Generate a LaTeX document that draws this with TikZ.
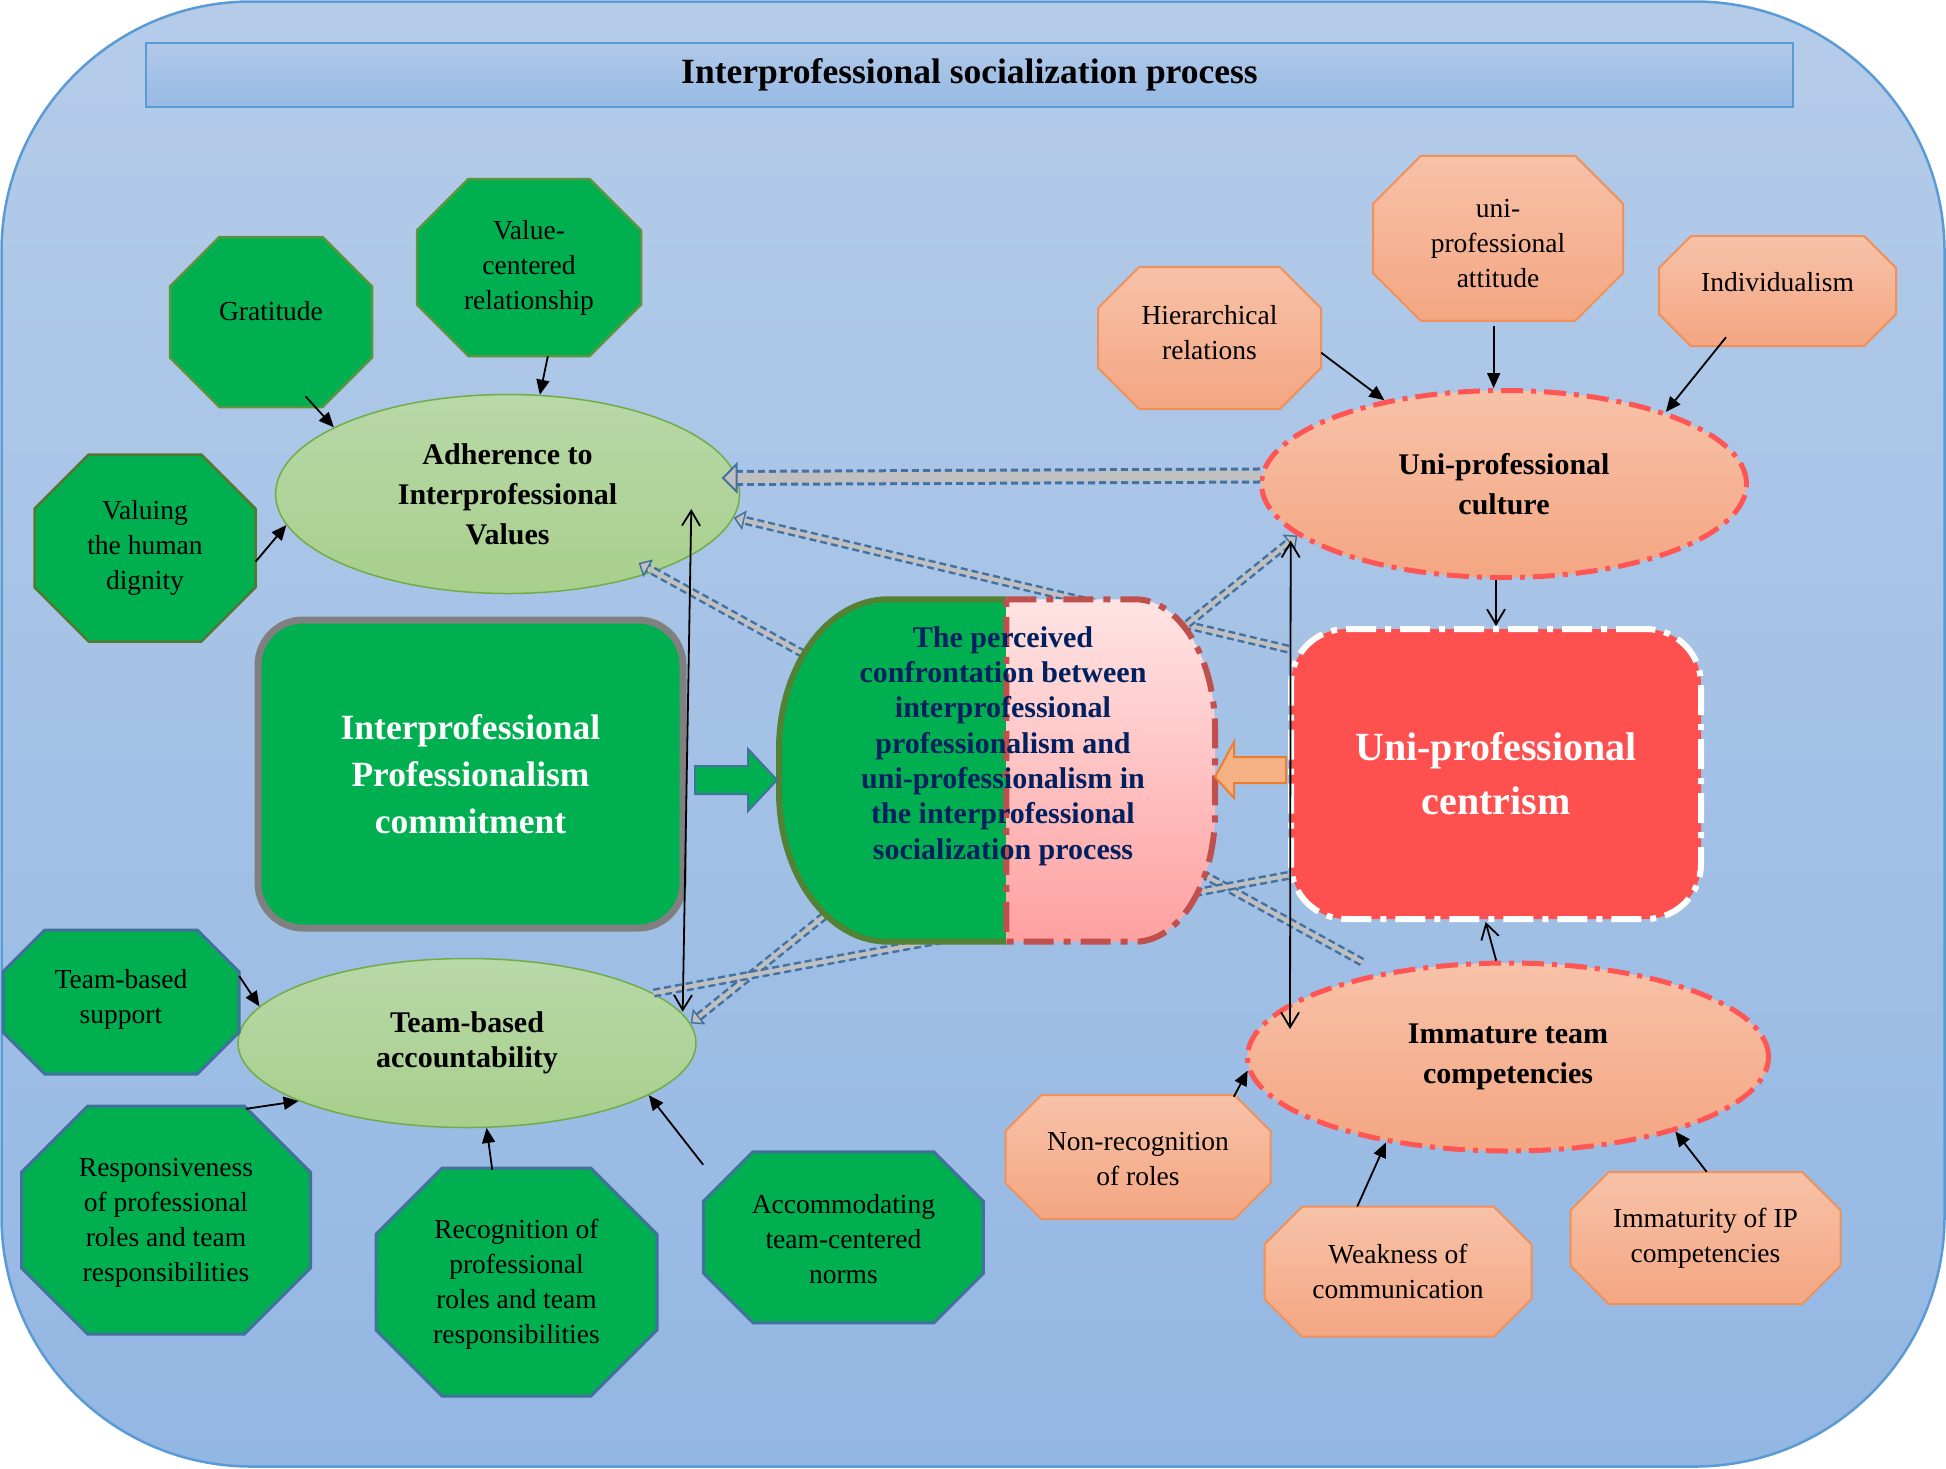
\documentclass[tikz,border=0pt]{standalone}
\usepackage{fontspec}
\setmainfont{Liberation Serif}
\usetikzlibrary{arrows.meta,calc,shapes.geometric}
\definecolor{bgtop}{RGB}{181,204,233}
\definecolor{bgbot}{RGB}{147,183,227}
\definecolor{bord}{RGB}{91,155,213}
\definecolor{ttop}{RGB}{178,201,232}
\definecolor{tbot}{RGB}{150,185,228}
\definecolor{gfill}{RGB}{0,176,80}
\definecolor{gbord}{RGB}{90,150,62}
\definecolor{gbordd}{RGB}{84,120,50}
\definecolor{bbord}{RGB}{65,113,156}
\definecolor{ofilltop}{RGB}{247,194,168}
\definecolor{ofillbot}{RGB}{244,166,130}
\definecolor{obord}{RGB}{238,145,90}
\definecolor{eltop}{RGB}{184,216,168}
\definecolor{elbot}{RGB}{168,207,140}
\definecolor{elbord}{RGB}{112,173,71}
\definecolor{redd}{RGB}{255,85,85}
\definecolor{upcfill}{RGB}{255,80,80}
\definecolor{navyc}{RGB}{0,32,96}
\definecolor{olivec}{RGB}{84,130,53}
\definecolor{pinktop}{RGB}{255,228,228}
\definecolor{pinkbot}{RGB}{255,160,160}
\definecolor{darkredc}{RGB}{192,80,77}
\definecolor{ddblue}{RGB}{68,114,160}
\definecolor{ddgray}{RGB}{192,192,192}
\definecolor{oarrfill}{RGB}{244,177,131}
\definecolor{oarrbord}{RGB}{237,125,49}
% #1 style, #2 name, #3 cx, #4 cy, #5 w, #6 h, #7 text, #8 text shift
\newcommand\octo[8]{%
  \pgfmathsetmacro\octC{0.29*min(#5,#6)}%
  \pgfmathsetmacro\octW{#5/2}%
  \pgfmathsetmacro\octH{#6/2}%
  \draw[#1] ({#3-\octW+\octC},{#4-\octH}) -- ({#3+\octW-\octC},{#4-\octH}) -- ({#3+\octW},{#4-\octH+\octC}) -- ({#3+\octW},{#4+\octH-\octC}) -- ({#3+\octW-\octC},{#4+\octH}) -- ({#3-\octW+\octC},{#4+\octH}) -- ({#3-\octW},{#4+\octH-\octC}) -- ({#3-\octW},{#4-\octH+\octC}) -- cycle;
  \node[octtext, minimum width=#5pt, minimum height=#6pt] (#2) at (#3,{#4+#8}) {#7};
}
\begin{document}
\begin{tikzpicture}[x=1pt,y=-1pt,
  octtext/.style={inner sep=0pt, align=center, font=\fontsize{27.5}{35}\selectfont},
  goct/.style={fill=gfill, draw=gbord, line width=2.5pt},
  goctd/.style={fill=gfill, draw=gbordd, line width=2.5pt},
  boct/.style={fill=gfill, draw=bbord, line width=3pt},
  ooct/.style={top color=ofilltop, bottom color=ofillbot, draw=obord, line width=2pt},
  gell/.style={ellipse, inner sep=0pt, top color=eltop, bottom color=elbot, draw=elbord, line width=1.5pt, align=center, font=\bfseries\fontsize{30}{40}\selectfont},
  oell/.style={ellipse, inner sep=0pt, top color=ofilltop, bottom color=ofillbot, draw=redd, line width=5pt, dash pattern=on 22pt off 8pt on 5pt off 8pt, align=center, font=\bfseries\fontsize{30}{40}\selectfont},
  ddo/.style={draw=ddblue, line width=#1, dash pattern=on 7pt off 4pt},
  ddi/.style={draw=ddgray, line width=#1},
  blk/.style={draw=black, line width=1.8pt, -{Triangle[length=15pt,width=13pt]}},
  opn/.style={draw=black, line width=1.8pt, {Straight Barb[length=15pt,width=18pt]}-{Straight Barb[length=15pt,width=18pt]}},
  opn1/.style={draw=black, line width=1.8pt, -{Straight Barb[length=15pt,width=18pt]}}
]
\useasboundingbox (0,0) rectangle (1946,1468);
% background
\draw[draw=bord, line width=2.5pt, top color=bgtop, bottom color=bgbot, rounded corners=250pt] (1.5,1.5) rectangle (1944.5,1466.5);
% title
\node[draw=bord, line width=2.5pt, top color=ttop, bottom color=tbot, minimum width=1647pt, minimum height=64pt, inner sep=0pt, font=\bfseries\fontsize{35.5}{40}\selectfont] (title) at (969.5,75) {\raisebox{-2pt}{Interprofessional socialization process}};

% ellipses
\node[gell, minimum width=464pt, minimum height=199pt] (adh) at (507.6,494) {Adherence to\\Interprofessional\\Values};
\node[gell, minimum width=458pt, minimum height=169pt, font=\bfseries\fontsize{30}{35}\selectfont] (acc) at (467,1043) {Team-based\\accountability};
\node[oell, minimum width=485pt, minimum height=187pt] (cul) at (1504,484) {Uni-professional\\culture};
\node[oell, minimum width=521pt, minimum height=188pt] (itc) at (1508,1057) {Immature team\\competencies};

% main boxes
\node[rounded corners=45pt, fill=gfill, draw=gray, line width=7pt, minimum width=425pt, minimum height=308pt, inner sep=0pt, align=center, text=white, font=\bfseries\fontsize{35.5}{47}\selectfont] (ipc) at (470.5,774) {Interprofessional\\Professionalism\\commitment};
\node[rounded corners=55pt, fill=upcfill, draw=white, line width=6pt, dash pattern=on 30pt off 9pt on 6pt off 9pt, minimum width=410pt, minimum height=290pt, inner sep=0pt, align=center, text=white, font=\bfseries\fontsize{40}{54}\selectfont] (upc) at (1496,774) {Uni-professional\\centrism};

\coordinate (gend) at (1362,962);

% double dashed connectors (behind the central shape)
\draw[ddo=16pt, -{Triangle[length=16pt,width=32pt,line width=2pt,fill=ddgray]}] (cul.178) -- ($(adh.center)+(214,-16)$);
\draw[ddi=10pt, shorten >=16pt] (cul.178) -- ($(adh.center)+(214,-16)$);
\draw[ddo=9pt, -{Triangle[length=11pt,width=20pt,line width=1.5pt,fill=ddgray]}] (upc.149) -- (adh.-6);
\draw[ddi=4pt, shorten >=11pt] (upc.149) -- (adh.-6);
\draw[ddo=9pt, -{Triangle[length=11pt,width=20pt,line width=1.5pt,fill=ddgray]}] (gend) -- ($(adh.center)+(131,69)$);
\draw[ddi=4pt, shorten >=11pt] (gend) -- ($(adh.center)+(131,69)$);
\draw[ddo=9pt, {Triangle[length=11pt,width=20pt,line width=1.5pt,fill=ddgray]}-{Triangle[length=11pt,width=20pt,line width=1.5pt,fill=ddgray]}] (acc.5) -- (cul.194);
\draw[ddi=4pt, shorten >=11pt, shorten <=11pt] (acc.5) -- (cul.194);
\draw[ddo=9pt] (upc.206) -- (acc.15);
\draw[ddi=4pt] (upc.206) -- (acc.15);

% central confrontation shape
\draw[fill=gfill, draw=olivec, line width=6pt] (1006.4,599.3) -- (888,599.3) arc[start angle=-90, end angle=-180, x radius=109, y radius=150] -- (779,791.7) arc[start angle=-180, end angle=-270, x radius=109, y radius=150] -- (1006.4,941.7);
\draw[top color=pinktop, bottom color=pinkbot, draw=darkredc, line width=6pt, dash pattern=on 30pt off 10pt on 7pt off 10pt] (1006.4,599.3) -- (1135,599.3) arc[start angle=-90, end angle=0, x radius=80, y radius=130] -- (1215,811.7) arc[start angle=0, end angle=90, x radius=80, y radius=130] -- (1006.4,941.7) -- cycle;
\node[text=navyc, align=center, inner sep=0pt, font=\bfseries\fontsize{30}{35.3}\selectfont] (conf) at (1003,746) {The perceived\\confrontation between\\interprofessional\\professionalism and\\uni-professionalism in\\the interprofessional\\socialization process};

% block arrows
\draw[fill=gfill, draw=bbord, line width=2pt] (695,766) -- (748,766) -- (748,749) -- (777,780) -- (748,811) -- (748,794) -- (695,794) -- cycle;
\draw[fill=oarrfill, draw=oarrbord, line width=2pt] (1286,757) -- (1234,757) -- (1234,742) -- (1215,777) -- (1234,798) -- (1234,783) -- (1286,783) -- cycle;

% green octagons
\octo{goct}{grat}{271}{322}{202}{170}{Gratitude}{-11}
\octo{goct}{val}{529}{267.5}{224}{177}{Value-\\centered\\relationship}{0}
\octo{goctd}{dig}{145}{548}{221}{187}{Valuing\\the human\\dignity}{0}
\octo{boct}{tbs}{121}{1002}{236}{144}{Team-based\\support}{-3}
\octo{boct}{resp}{166}{1220}{289}{228}{Responsiveness\\of professional\\roles and team\\responsibilities}{3}
\octo{boct}{reco}{516.5}{1282}{281}{228}{Recognition of\\professional\\roles and team\\responsibilities}{2}
\octo{boct}{acco}{843.4}{1237.3}{280}{171}{Accommodating\\team-centered\\norms}{2}

% orange octagons
\octo{ooct}{hier}{1209.5}{338}{223}{142}{Hierarchical\\relations}{-5}
\octo{ooct}{att}{1498}{238.3}{250}{165}{uni-\\professional\\attitude}{5}
\octo{ooct}{ind}{1777.5}{291}{237}{110}{Individualism}{-9}
\octo{ooct}{nonr}{1138}{1157}{265}{124}{Non-recognition\\of roles}{2}
\octo{ooct}{weak}{1398}{1271.7}{267}{130}{Weakness of\\communication}{0}
\octo{ooct}{imm}{1705.5}{1238}{270}{132}{Immaturity of IP\\competencies}{0}

% black arrows
\draw[blk] (grat.-68) -- (adh.159);
\draw[blk] (val.-78) -- (adh.72);
\draw[blk] (dig.-7) -- (adh.188);
\draw[blk] (tbs.11) -- (acc.170);
\draw[blk] (resp.55) -- (acc.199);
\draw[blk] (reco.102) -- (acc.-77);
\draw[blk] (acco.152) -- (acc.-16);
\draw[blk] (hier.-10) -- (cul.145);
\draw[blk] (att.-93) -- (att.-93 |- cul.north);
\draw[blk] (ind.-133) -- (cul.24);
\draw[blk] (nonr.33) -- (itc.183);
\draw[blk] (weak.122) -- (itc.215);
\draw[blk] (imm.89) -- (itc.-24);

% open arrows
\draw[opn] ($(acc.center)+(215.7,-31.3)$) -- ($(adh.center)+(183.7,15)$);
\draw[opn] ($(itc.center)+(-218,-28)$) -- ($(cul.center)+(-213.3,56.7)$);
\draw[opn1] (cul.south -| upc.north) -- (upc.north);
\draw[opn1] (itc.97) -- (upc.-94);
\end{tikzpicture}
\end{document}
